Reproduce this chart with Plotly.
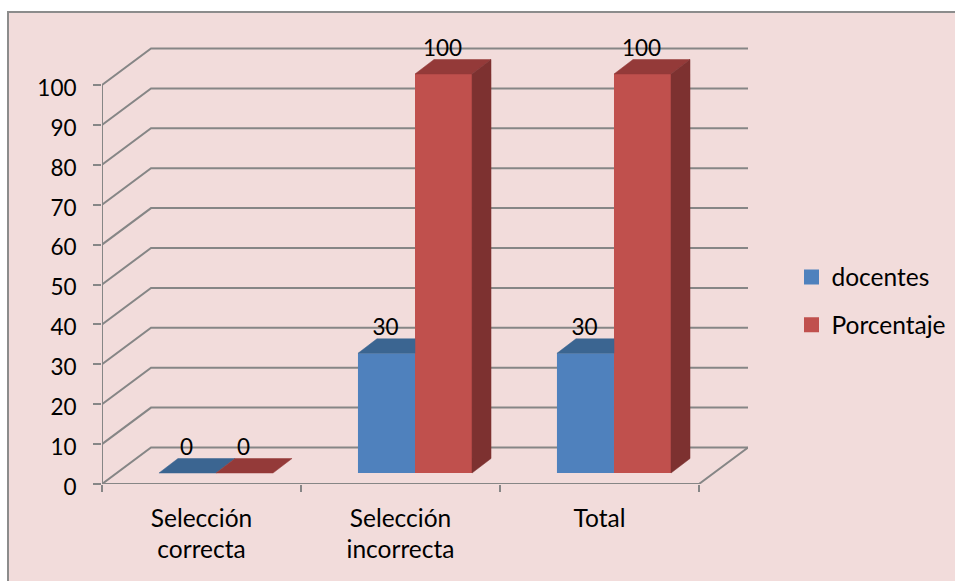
import plotly.graph_objects as go

categories = ["Selección<br>correcta", "Selección<br>incorrecta", "Total"]
docentes = [0, 30, 30]
porcentaje = [0, 100, 100]
y_ticks = [0, 10, 20, 30, 40, 50, 60, 70, 80, 90, 100]

W, H = 955, 581
L, R, T, B = 102, 748, 20, 484          # plot area in pixels
N = len(categories)
PX_X = (698.7 - 102) / N                # pixels per category
PX_Y = 3.99                             # pixels per unit
DX, DY = 49 / PX_X, 36.5 / PX_Y         # depth of the floor
BAR_DX, BAR_DY = 19 / PX_X, 14.5 / PX_Y # depth of a bar
OFF_X, OFF_Y = 14.5 / PX_X, 11 / PX_Y   # bar base shift on the floor
BAR_W = 57 / PX_X
GAP = (1 - 2 * BAR_W) / 2
LABEL_UP = 24 / PX_Y
LABEL_SHIFT = -1 / PX_X

BLUE, BLUE_TOP = "#4F81BD", "#3B6591"
RED, RED_TOP, RED_SIDE = "#C0504D", "#943A39", "#7D3130"
BG, GRID, TXT = "#F2DCDB", "#868686", "#000000"
FONT = "Lato"
FS = 24.5
FS_NUM = 22.5

fig = go.Figure()

def left(i, s):
    return i + GAP + s * BAR_W

def poly(xs, ys, color):
    fig.add_trace(go.Scatter(x=xs + xs[:1], y=ys + ys[:1], mode="lines", fill="toself",
                             fillcolor=color, line=dict(color=color, width=0.5),
                             hoverinfo="skip", showlegend=False))

series = [("docentes", docentes, BLUE), ("Porcentaje", porcentaje, RED)]

# front faces
for s, (name, vals, col) in enumerate(series):
    fig.add_trace(go.Bar(
        x=[left(i, s) + OFF_X + BAR_W / 2 for i in range(N)],
        y=vals, base=OFF_Y, width=BAR_W, name=name, showlegend=False,
        marker=dict(color=col, line=dict(width=0)),
    ))

# legend entries with a slightly larger swatch
for name, vals, col in series:
    fig.add_trace(go.Bar(x=[None], y=[None], name=name, legendgroup=name,
                         marker=dict(color=col, line=dict(color=col, width=3))))

# tops and sides, computed from the data
for i in range(N):
    d, p = docentes[i], porcentaje[i]
    x0 = left(i, 0) + OFF_X
    x1 = x0 + BAR_W
    x2 = x1 + BAR_W
    top = d + OFF_Y
    right = x1 if p > d else x1 + BAR_DX
    poly([x0, x0 + BAR_DX, right, x1], [top, top + BAR_DY, top + BAR_DY, top], BLUE_TOP)
    top = p + OFF_Y
    poly([x1, x1 + BAR_DX, x2 + BAR_DX, x2], [top, top + BAR_DY, top + BAR_DY, top], RED_TOP)
    if p > 0:
        poly([x2, x2 + BAR_DX, x2 + BAR_DX, x2],
             [OFF_Y, OFF_Y + BAR_DY, top + BAR_DY, top], RED_SIDE)

# data labels
lx, ly, lt = [], [], []
for s, vals in enumerate([docentes, porcentaje]):
    for i, v in enumerate(vals):
        lx.append(left(i, s) + OFF_X + BAR_W / 2 + LABEL_SHIFT)
        ly.append(v + OFF_Y + LABEL_UP)
        lt.append(str(v))
fig.add_trace(go.Scatter(x=lx, y=ly, text=lt, mode="text", textposition="middle center",
                         textfont=dict(family=FONT, size=FS_NUM, color=TXT),
                         hoverinfo="skip", showlegend=False, cliponaxis=False))

pw, ph = R - L, B - T
shapes = [dict(type="rect", xref="paper", yref="paper", layer="below",
               x0=(8 - L) / pw, x1=(W + 5 - L) / pw,
               y0=(B - (H + 5)) / ph, y1=(B - 12) / ph,
               fillcolor=BG, line=dict(color="#8C8C8C", width=2))]
for v in y_ticks:
    shapes.append(dict(type="path", layer="below", line=dict(color=GRID, width=2),
                       path=f"M0,{v} L{DX},{v + DY} L{N + DX},{v + DY}"))
shapes.append(dict(type="path", layer="below", line=dict(color=GRID, width=2),
                   path=f"M0,{y_ticks[-1]} L0,0 L{N},0 L{N + DX},{DY}"))

fig.update_layout(
    width=W, height=H, autosize=False,
    margin=dict(l=L, r=W - R, t=T, b=H - B, pad=0, autoexpand=False),
    paper_bgcolor="#FFFFFF", plot_bgcolor="rgba(0,0,0,0)",
    barmode="overlay", shapes=shapes,
    font=dict(family=FONT, size=FS, color=TXT),
    xaxis=dict(range=[0, N + DX], showgrid=False, zeroline=False, showline=False,
               automargin=False,
               tickmode="array", tickvals=[i + 0.5 for i in range(N)],
               ticktext=categories,
               ticks="", ticklabelstandoff=17, tickfont=dict(size=FS),
               minor=dict(tickmode="array", tickvals=list(range(N + 1)), ticks="outside",
                          ticklen=7, tickcolor=GRID, tickwidth=2, showgrid=False)),
    yaxis=dict(range=[0, ph / PX_Y], showgrid=False, zeroline=False, showline=False,
               automargin=False,
               tickmode="array", tickvals=y_ticks, ticks="outside", ticklen=8,
               tickcolor=GRID, tickwidth=2, ticklabelstandoff=12, ticklabelshift=3,
               tickfont=dict(size=FS_NUM)),
    showlegend=True,
    legend=dict(x=(791.5 - L) / pw, y=(B - 254.5) / ph, xanchor="left", yanchor="top",
                bgcolor="rgba(0,0,0,0)", tracegroupgap=13, traceorder="grouped",
                itemwidth=30, font=dict(family=FONT, size=FS, color=TXT)),
)
fig.write_html("out.html", post_script="document.body.style.margin='0';",
               config={"displayModeBar": False})
